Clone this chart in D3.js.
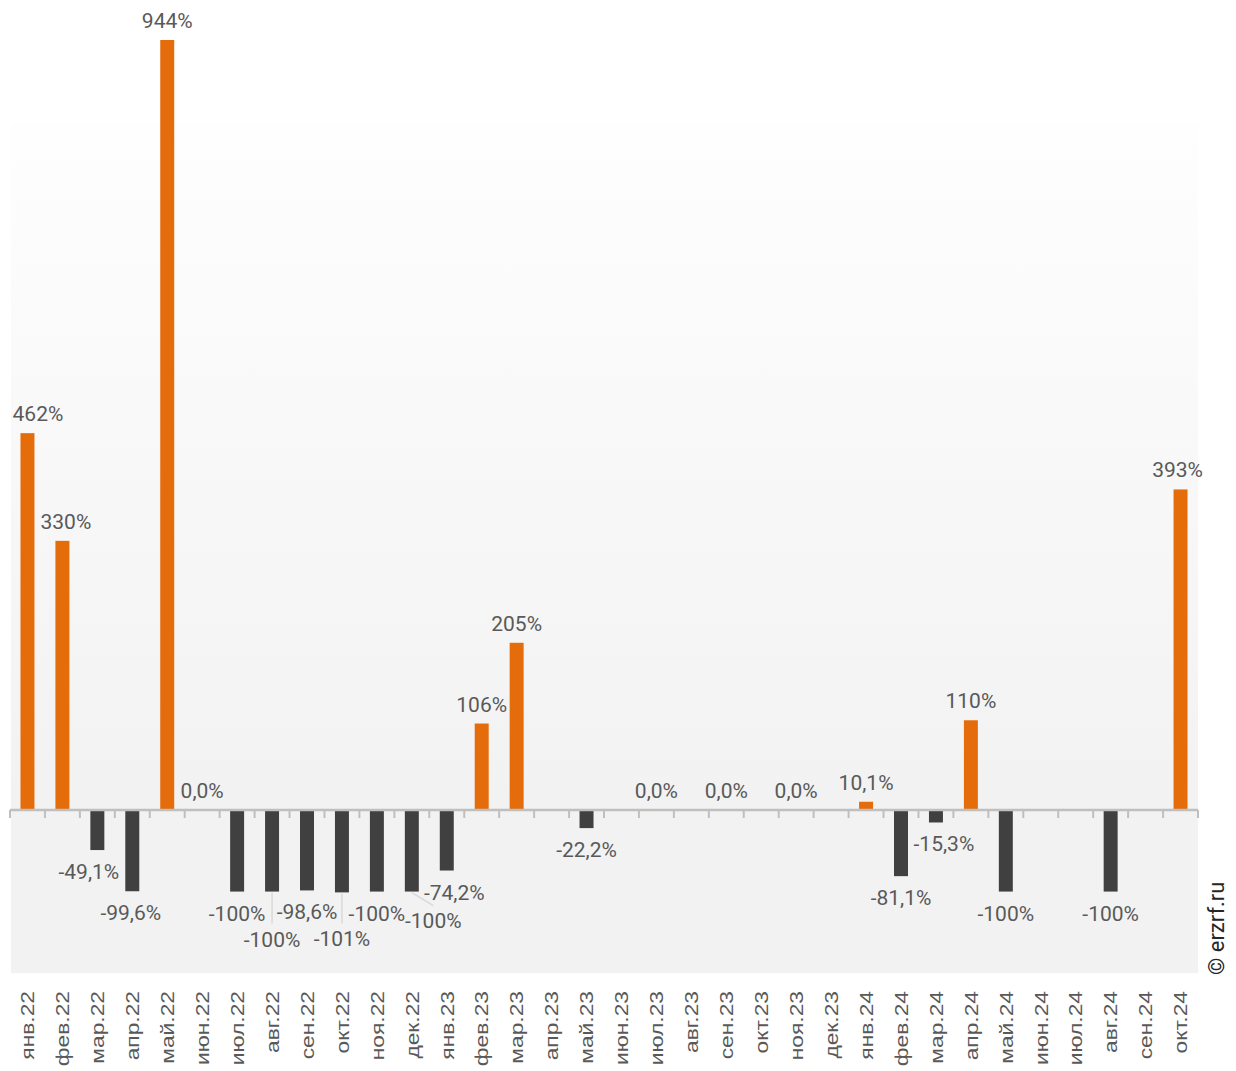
<!DOCTYPE html>
<html><head><meta charset="utf-8">
<script src="https://cdn.jsdelivr.net/npm/d3@7/dist/d3.min.js"></script>
<style>html,body{margin:0;padding:0;background:#fff;}svg{display:block;}</style>
</head><body>
<svg id="chart" width="1236" height="1071"></svg>
<script>
const categories = ["янв.22","фев.22","мар.22","апр.22","май.22","июн.22","июл.22","авг.22","сен.22","окт.22","ноя.22","дек.22",
  "янв.23","фев.23","мар.23","апр.23","май.23","июн.23","июл.23","авг.23","сен.23","окт.23","ноя.23","дек.23",
  "янв.24","фев.24","мар.24","апр.24","май.24","июн.24","июл.24","авг.24","сен.24","окт.24"];
const values = [462,330,-49.1,-99.6,944,0.0,-100,-100,-98.6,-101,-100,-100,
  -74.2,106,205,null,-22.2,null,0.0,null,0.0,null,0.0,null,
  10.1,-81.1,-15.3,110,-100,null,null,-100,null,393];
const copyrightText = "© erzrf.ru";

// layout tweaks for overlapping data labels (index -> offsets)
const labelNudges = {0:{dx:10.5},1:{dx:3.5},2:{dx:-8.5},3:{dx:-1.5},7:{dy:26,leader:true},9:{dy:25,leader:true},
  11:{dx:21.5,dy:7,leader:true},12:{dx:7.5},26:{dx:8},33:{dx:-3}};

const svg = d3.select("#chart");
const plotL = 10, plotR = 1198;
const x = d3.scaleBand().domain(categories).range([plotL, plotR]).paddingInner(0.6).paddingOuter(0.3);
const y = d3.scaleLinear().domain([0, 944]).range([810, 40]);

const defs = svg.append("defs");
const grad = defs.append("linearGradient").attr("id","bg").attr("x1",0).attr("y1",0).attr("x2",0).attr("y2",1);
grad.append("stop").attr("offset","0%").attr("stop-color","#fefefe");
grad.append("stop").attr("offset","80%").attr("stop-color","#f2f2f2");
grad.append("stop").attr("offset","100%").attr("stop-color","#f2f2f2");

svg.append("rect").attr("x",11).attr("y",y(-200)-850).attr("width",plotR-11).attr("height",850)
  .attr("fill","url(#bg)");

const data = categories.map((c,i)=>({c, v: values[i], i}));
const loc = d3.formatLocale({decimal: ",", thousands: " ", grouping: [3], currency: ["", ""], minus: "-"});
const fmt = v => (Math.abs(v) >= 100 ? loc.format("d")(Math.round(v)) : loc.format(".1f")(v)) + "%";

// bars
svg.append("g").selectAll("rect").data(data.filter(d => d.v !== null && d.v !== 0)).join("rect")
  .attr("x", d => x(d.c))
  .attr("width", x.bandwidth())
  .attr("y", d => d.v > 0 ? y(d.v) : y(0))
  .attr("height", d => Math.abs(y(d.v) - y(0)))
  .attr("fill", d => d.v > 0 ? "#e46c0a" : "#404040");

// axis line & ticks
const step = x.step();
const ax = svg.append("g");
ax.append("line").attr("x1", plotL).attr("x2", plotR).attr("y1", y(0)).attr("y2", y(0))
  .attr("stroke","#bfbfbf").attr("stroke-width",2.5);
const bounds = categories.map(c => x(c) + x.bandwidth()/2 - step/2).concat([plotR]);
ax.selectAll("line.tick").data(bounds).join("line").attr("class","tick")
  .attr("x1", d=>d).attr("x2", d=>d).attr("y1", y(0)).attr("y2", y(0)+8)
  .attr("stroke","#bfbfbf").attr("stroke-width",2);

// category labels
svg.append("g").selectAll("text").data(categories).join("text")
  .attr("transform", c => `translate(${x(c)+x.bandwidth()/2},991) rotate(-90) scale(1.2,1)`)
  .attr("text-anchor","end").attr("dominant-baseline","central")
  .attr("font-family","'Liberation Sans', Arial, sans-serif").attr("font-size",19)
  .attr("fill","#595959").text(c => c);

// data labels
const lab = svg.append("g");
data.filter(d => d.v !== null).forEach(d => {
  const n = labelNudges[d.i] || {};
  const cx = x(d.c) + x.bandwidth()/2;
  const base = d.v >= 0 ? y(d.v) - 19 : y(d.v) + 22;
  const lx = cx + (n.dx || 0), ly = base + (n.dy || 0);
  if (n.leader) {
    lab.append("line").attr("x1", cx).attr("y1", y(d.v) + 1)
      .attr("x2", n.dx ? lx : cx).attr("y2", n.dx ? ly - 15 : ly - 16)
      .attr("stroke","#d9d9d9").attr("stroke-width",1.5);
  }
  lab.append("text").attr("x", lx).attr("y", ly)
    .attr("text-anchor","middle").attr("dominant-baseline","central")
    .attr("font-family","Roboto, sans-serif").attr("font-size",21)
    .attr("fill","#595959").text(fmt(d.v));
});

// copyright
svg.append("text").attr("transform","translate(1216,975) rotate(-90)")
  .attr("text-anchor","start").attr("dominant-baseline","central")
  .attr("font-family","Roboto, sans-serif").attr("font-size",22)
  .attr("fill","#262626").text(copyrightText);
</script>
</body></html>
